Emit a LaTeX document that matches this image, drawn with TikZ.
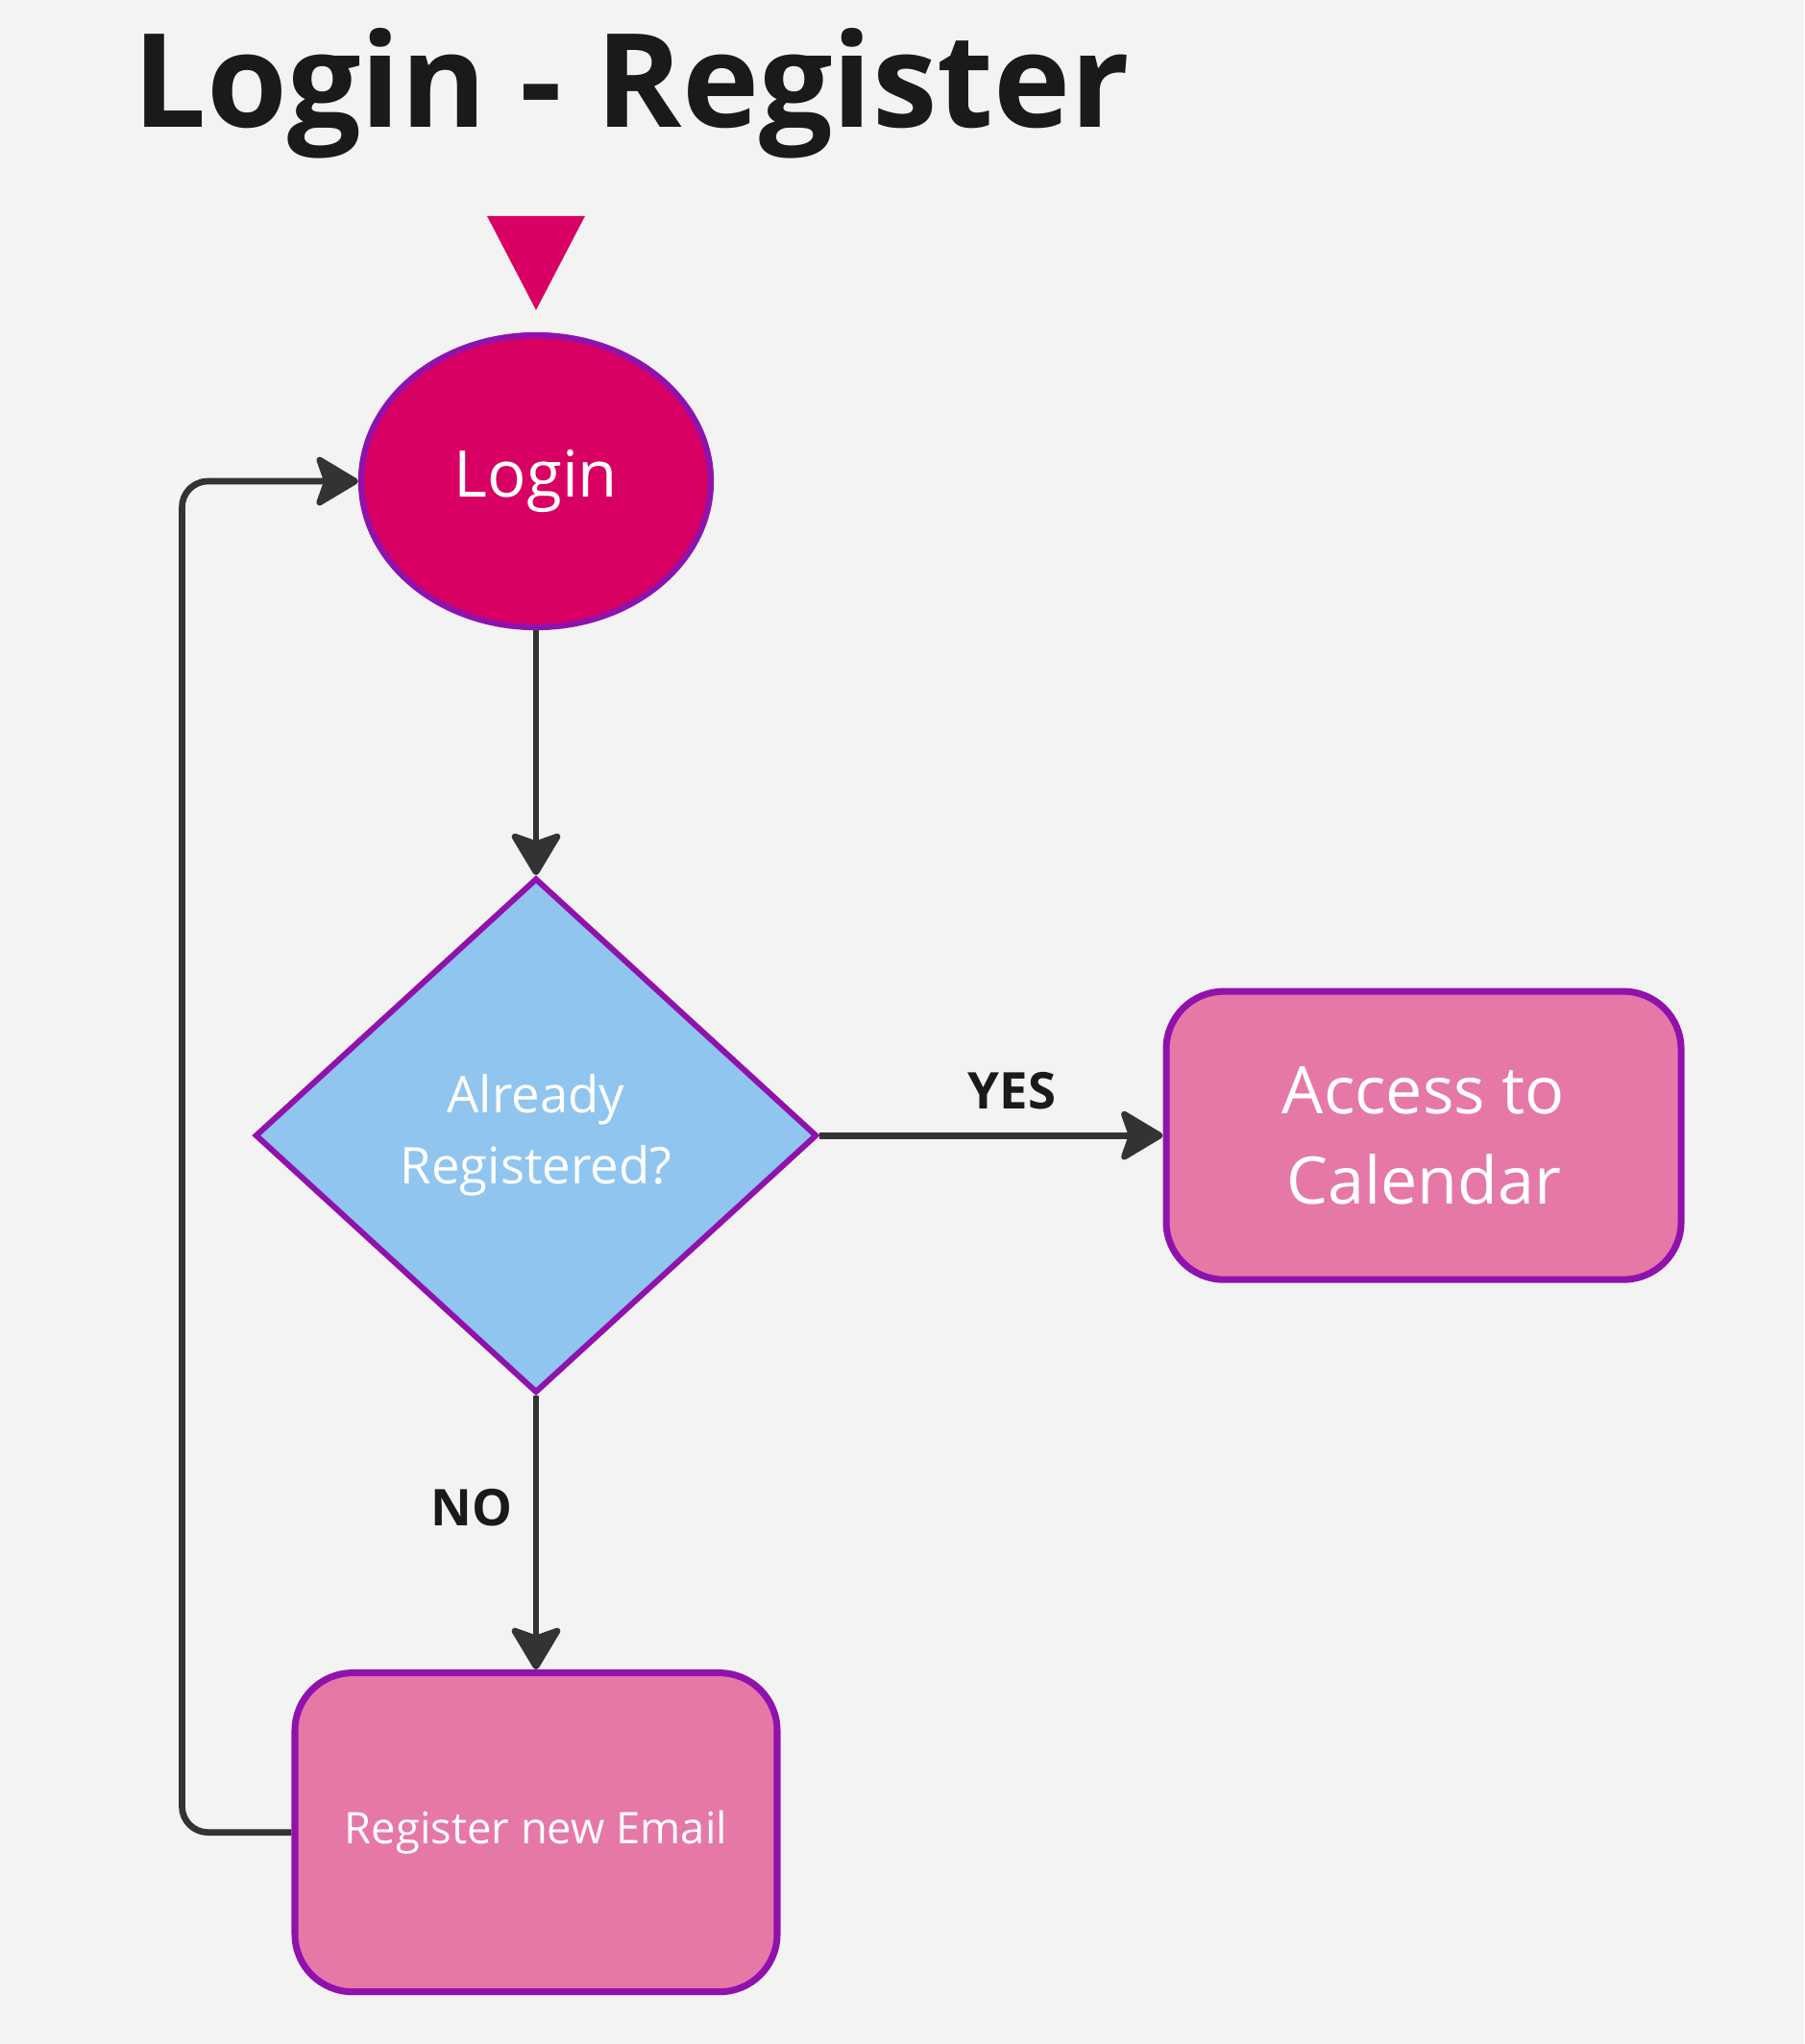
\documentclass[tikz,border=0pt]{standalone}
\usepackage{fontspec}
\setmainfont{Open Sans}
\usepackage{tikz}
\usetikzlibrary{positioning,shapes.geometric,arrows.meta}
\definecolor{bgc}{HTML}{F3F3F3}
\definecolor{titlec}{HTML}{1A1A1A}
\definecolor{loginc}{HTML}{D80062}
\definecolor{edgec}{HTML}{9012AD}
\definecolor{diac}{HTML}{90C5EF}
\definecolor{boxc}{HTML}{E678A8}
\definecolor{linec}{HTML}{333333}

\begin{document}
\begin{tikzpicture}[auto,node distance=2.6cm]
	\tikzstyle{term}=[ellipse,draw=edgec,fill=loginc,line width=1.8pt,minimum width=3.64cm,minimum height=3.04cm,text=white,font=\fontsize{19.1}{23}\selectfont]
	\tikzstyle{decision}=[diamond,draw=edgec,fill=diac,line width=1.7pt,minimum width=5.85cm,minimum height=5.36cm,inner sep=0pt,text=white,align=center,font=\fontsize{15}{21}\selectfont]
	\tikzstyle{block}=[rectangle,rounded corners=0.6cm,draw=edgec,fill=boxc,line width=2pt,text=white,align=center]
	\tikzstyle{conn}=[draw=linec,line width=1.9pt,rounded corners=0.27cm,-{Stealth[length=4.9mm,width=5.8mm,inset=1mm,round]}]
	\tikzstyle{answer}=[text=titlec,inner sep=0pt,font=\bfseries\fontsize{15}{18}\selectfont]
		\fill[bgc] (0,0) rectangle (18.78,-21.28);
		\useasboundingbox (0,0) rectangle (18.78,-21.28);
		\node[anchor=base west, inner sep=0pt, text=titlec, font=\bfseries\fontsize{38.6}{46}\selectfont] (title) at (1.38,-1.33) {Login - Register};
		\node[term] (login) at (5.58,-5.01) {Login};
		\node[decision] (dia) [below=2.55cm of login] {Already\\Registered?};
		\node[block, minimum width=5.36cm, minimum height=3.0cm, font=\fontsize{19.4}{26.7}\selectfont] (acc) [right=3.57cm of dia] {Access to\\Calendar};
		\node[block, minimum width=5.02cm, minimum height=3.32cm, font=\fontsize{12.9}{16}\selectfont] (reg) [below=2.85cm of dia] {Register new Email};
		% start marker
		\coordinate[above=0.23cm of login] (tip);
		\fill[loginc] (tip) -- ++(-0.51,0.98) -- ++(1.02,0) -- cycle;
			\draw[conn] (login) -- (dia);
			\draw[conn] (dia) -- node[answer, pos=0.56, above=0.24cm] {YES} (acc);
			\draw[conn] (dia) -- node[answer, pos=0.41, left=0.21cm] {NO} (reg);
			\draw[conn] (reg.west) -- ++(-1.14,0) |- (login.west);
\end{tikzpicture}
\end{document}
